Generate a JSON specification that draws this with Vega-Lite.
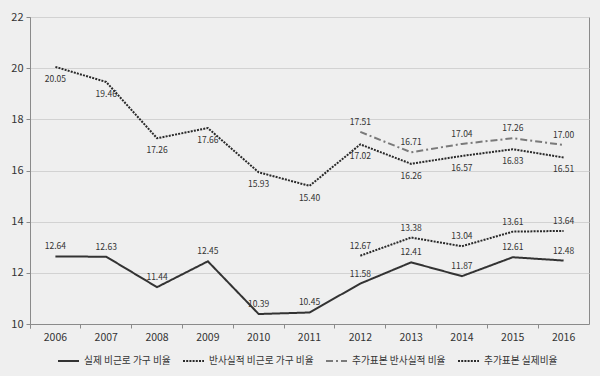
{
  "$schema": "https://vega.github.io/schema/vega-lite/v6.json",
  "width": 559,
  "height": 307,
  "autosize": {"type": "none"},
  "padding": {"left": 30, "top": 17, "right": 11, "bottom": 52},
  "background": "#efefef",
  "config": {
    "font": "Noto Sans CJK KR",
    "view": {"stroke": "#8a8a8a", "strokeWidth": 1, "fill": "#efefef"},
    "axis": {"domainColor": "#8a8a8a", "tickColor": "#8a8a8a", "labelColor": "#333", "labelFont": "Noto Sans CJK KR", "labelFontSize": 10.5, "tickSize": 4, "gridColor": "#d2d2d2", "title": null}
  },
  "data": {
    "values": [
      {"year": "2006", "series": "실제 비근로 가구 비율", "value": 12.64},
      {"year": "2007", "series": "실제 비근로 가구 비율", "value": 12.63},
      {"year": "2008", "series": "실제 비근로 가구 비율", "value": 11.44},
      {"year": "2009", "series": "실제 비근로 가구 비율", "value": 12.45},
      {"year": "2010", "series": "실제 비근로 가구 비율", "value": 10.39},
      {"year": "2011", "series": "실제 비근로 가구 비율", "value": 10.45},
      {"year": "2012", "series": "실제 비근로 가구 비율", "value": 11.58},
      {"year": "2013", "series": "실제 비근로 가구 비율", "value": 12.41},
      {"year": "2014", "series": "실제 비근로 가구 비율", "value": 11.87},
      {"year": "2015", "series": "실제 비근로 가구 비율", "value": 12.61},
      {"year": "2016", "series": "실제 비근로 가구 비율", "value": 12.48},
      {"year": "2006", "series": "반사실적 비근로 가구 비율", "value": 20.05},
      {"year": "2007", "series": "반사실적 비근로 가구 비율", "value": 19.46},
      {"year": "2008", "series": "반사실적 비근로 가구 비율", "value": 17.26},
      {"year": "2009", "series": "반사실적 비근로 가구 비율", "value": 17.66},
      {"year": "2010", "series": "반사실적 비근로 가구 비율", "value": 15.93},
      {"year": "2011", "series": "반사실적 비근로 가구 비율", "value": 15.40},
      {"year": "2012", "series": "반사실적 비근로 가구 비율", "value": 17.02},
      {"year": "2013", "series": "반사실적 비근로 가구 비율", "value": 16.26},
      {"year": "2014", "series": "반사실적 비근로 가구 비율", "value": 16.57},
      {"year": "2015", "series": "반사실적 비근로 가구 비율", "value": 16.83},
      {"year": "2016", "series": "반사실적 비근로 가구 비율", "value": 16.51},
      {"year": "2012", "series": "추가표본 반사실적 비율", "value": 17.51},
      {"year": "2013", "series": "추가표본 반사실적 비율", "value": 16.71},
      {"year": "2014", "series": "추가표본 반사실적 비율", "value": 17.04},
      {"year": "2015", "series": "추가표본 반사실적 비율", "value": 17.26},
      {"year": "2016", "series": "추가표본 반사실적 비율", "value": 17.00},
      {"year": "2012", "series": "추가표본 실제비율", "value": 12.67},
      {"year": "2013", "series": "추가표본 실제비율", "value": 13.38},
      {"year": "2014", "series": "추가표본 실제비율", "value": 13.04},
      {"year": "2015", "series": "추가표본 실제비율", "value": 13.61},
      {"year": "2016", "series": "추가표본 실제비율", "value": 13.64}
    ]
  },
  "encoding": {
    "x": {
      "field": "year", "type": "ordinal",
      "scale": {"type": "band", "paddingInner": 0, "paddingOuter": 0},
      "axis": {"labelAngle": 0, "bandPosition": 0, "tickExtra": true, "labelPadding": 4, "grid": false}
    },
    "y": {
      "field": "value", "type": "quantitative",
      "scale": {"domain": [10, 22], "nice": false, "zero": false},
      "axis": {"values": [10, 12, 14, 16, 18, 20, 22], "grid": true, "labelPadding": 3, "tickSize": 4, "labelFontSize": 11}
    }
  },
  "layer": [
    {
      "mark": {"type": "line", "strokeWidth": 2},
      "encoding": {
        "color": {
          "field": "series", "type": "nominal",
          "scale": {"domain": ["실제 비근로 가구 비율", "반사실적 비근로 가구 비율", "추가표본 반사실적 비율", "추가표본 실제비율"], "range": ["#333333", "#2a2a2a", "#7a7a7a", "#2a2a2a"]},
          "legend": {"title": null, "orient": "none", "legendX": 27, "legendY": 332, "direction": "horizontal", "symbolType": "stroke", "symbolSize": 441, "symbolStrokeWidth": 2, "labelFont": "Noto Sans CJK KR", "labelFontSize": 9.7, "labelColor": "#333", "labelOffset": 4, "columnPadding": 8, "padding": 0}
        },
        "strokeDash": {
          "field": "series", "type": "nominal",
          "scale": {"domain": ["실제 비근로 가구 비율", "반사실적 비근로 가구 비율", "추가표본 반사실적 비율", "추가표본 실제비율"], "range": [[1, 0], [2, 1.2], [7, 3, 2, 3], [2, 1.2]]},
          "legend": {"title": null, "orient": "none", "legendX": 27, "legendY": 332, "direction": "horizontal", "symbolType": "stroke", "symbolSize": 441, "symbolStrokeWidth": 2, "labelFont": "Noto Sans CJK KR", "labelFontSize": 9.7, "labelColor": "#333", "labelOffset": 4, "columnPadding": 8, "padding": 0}
        }
      }
    },
    {
      "transform": [{"filter": "datum.series !== '반사실적 비근로 가구 비율'"}],
      "mark": {"type": "text", "dy": -10, "fontSize": 8.5, "color": "#333", "baseline": "middle"},
      "encoding": {"text": {"field": "value", "type": "quantitative", "format": ".2f"}}
    },
    {
      "transform": [{"filter": "datum.series === '반사실적 비근로 가구 비율'"}],
      "mark": {"type": "text", "dy": 12, "fontSize": 8.5, "color": "#333", "baseline": "middle"},
      "encoding": {"text": {"field": "value", "type": "quantitative", "format": ".2f"}}
    }
  ]
}
